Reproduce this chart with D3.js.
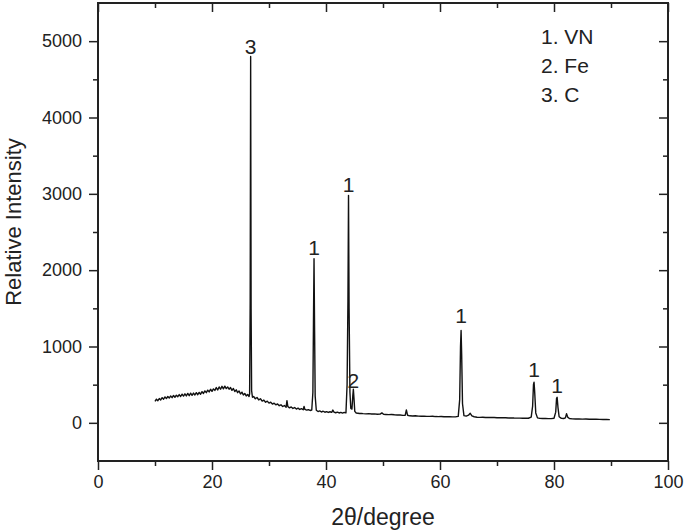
<!DOCTYPE html>
<html>
<head>
<meta charset="utf-8">
<script src="https://cdn.jsdelivr.net/npm/d3@7"></script>
<style>
  html, body { margin: 0; padding: 0; background: #fff; }
  svg { display: block; }
  text { font-family: "Liberation Sans", Arial, sans-serif; fill: #222; }
</style>
</head>
<body>
<svg id="chart" width="685" height="532"></svg>
<script>
// ---- data ----
const twoTheta = [
  10, 10.25, 10.5, 10.75, 11, 11.25, 11.5, 11.75, 12, 12.25, 12.5, 12.75, 13, 13.25, 13.5, 13.75,
  14, 14.25, 14.5, 14.75, 15, 15.25, 15.5, 15.75, 16, 16.25, 16.5, 16.75, 17, 17.25, 17.5, 17.75,
  18, 18.25, 18.5, 18.75, 19, 19.25, 19.5, 19.75, 20, 20.25, 20.5, 20.75, 21, 21.25, 21.5, 21.75,
  22, 22.25, 22.5, 22.75, 23, 23.25, 23.5, 23.75, 24, 24.25, 24.5, 24.75, 25, 25.25, 25.5, 25.75,
  26, 26.25, 26.5,
  26.6, 26.7, 26.78, 26.86, 26.95, 27.1,
  27.3, 27.6, 27.9, 28.2, 28.5, 28.8, 29.1, 29.4, 29.7, 30, 30.3, 30.6, 30.9, 31.2, 31.5, 31.8,
  32.1, 32.4, 32.7, 33, 33.15, 33.3, 33.6, 33.9, 34.2, 34.5, 34.8, 35.1, 35.4, 35.7, 36.0, 36.15,
  36.3, 36.6, 36.9, 37.2, 37.5, 37.7, 37.8, 37.9, 38.0, 38.1, 38.3, 38.6, 38.9, 39.2, 39.5, 39.8,
  40.1, 40.4, 40.7, 41.0, 41.2, 41.4, 41.7, 42.0, 42.3, 42.6, 42.9, 43.2, 43.5, 43.7, 43.85, 43.95,
  44.05, 44.2, 44.35, 44.55, 44.7, 44.8, 44.9, 45.05, 45.3, 45.6, 45.9, 46.2, 46.5, 47, 47.5, 48,
  48.5, 49, 49.5, 49.8, 50.1, 50.5, 51, 51.5, 52, 52.5, 53, 53.5, 53.9, 54.1, 54.3, 54.7,
  55.2, 55.7, 56.2, 56.7, 57.2, 57.7, 58.2, 58.7, 59.2, 59.7, 60.2, 60.7, 61.2, 61.7, 62.2, 62.7,
  63.2, 63.45, 63.6, 63.7, 63.8, 63.95, 64.2, 64.6, 65.0, 65.3, 65.6, 66.0, 66.5, 67, 67.5, 68,
  68.5, 69, 69.5, 70, 70.5, 71, 71.5, 72, 72.5, 73, 73.5, 74, 74.5, 75, 75.5, 76.0,
  76.25, 76.4, 76.5, 76.6, 76.8, 77.1, 77.5, 78, 78.5, 79, 79.5, 80.0, 80.3, 80.45, 80.55, 80.7,
  80.9, 81.3, 81.7, 82.0, 82.2, 82.4, 82.7, 83.2, 83.8, 84.4, 85, 85.6, 86.2, 86.8, 87.4, 88,
  88.6, 89.2, 89.8
];
const intensity = [
  280, 310, 290, 318, 300, 330, 310, 340, 318, 345, 325, 352, 330, 358, 335, 362,
  342, 370, 345, 375, 350, 380, 352, 385, 355, 388, 360, 390, 365, 395, 368, 398,
  375, 408, 385, 418, 395, 428, 405, 440, 412, 445, 425, 462, 430, 470, 440, 478,
  445, 480, 448, 470, 440, 462, 425, 450, 410, 432, 395, 418, 378, 402, 365, 385,
  352, 372, 345,
  380, 1600, 4800, 1500, 420, 335,
  345, 315, 332, 300, 315, 285, 298, 270, 284, 258, 270, 246, 258, 236, 248, 224,
  236, 214, 226, 205, 290, 215, 196, 208, 188, 200, 181, 193, 175, 185, 171, 215,
  175, 166, 172, 162, 168, 400, 1300, 2150, 1200, 350, 165, 148, 156, 142, 152, 139,
  147, 136, 145, 137, 168, 141, 132, 140, 129, 137, 127, 136, 131, 500, 1600, 2980,
  1500, 400, 190, 180, 350, 440, 330, 150, 128, 125, 122, 124, 120, 118, 120, 115,
  117, 113, 115, 130, 112, 110, 108, 110, 105, 103, 102, 98, 100, 170, 100, 92,
  90, 92, 88, 86, 88, 85, 84, 86, 82, 81, 83, 80, 79, 81, 78, 78,
  85, 300, 1000, 1210, 900, 250, 95, 88, 100, 125, 92, 80, 74, 72, 73, 70,
  71, 69, 70, 67, 68, 66, 66, 64, 65, 63, 62, 62, 61, 60, 60, 75,
  220, 500, 532, 420, 130, 65, 58, 56, 57, 55, 55, 60, 140, 320, 335, 200,
  80, 58, 57, 65, 120, 75, 57, 52, 51, 50, 49, 50, 47, 46, 46, 45,
  44, 43, 42
];

// peak annotations
const peakLabels = ["3", "1", "1", "2", "1", "1", "1"];
const peakLabelX = [26.78, 37.9, 43.95, 44.8, 63.7, 76.5, 80.55];
const peakLabelY = [4830, 2200, 3030, 460, 1310, 600, 390];

// legend
const legendItems = ["1. VN", "2. Fe", "3. C"];

// axes
const xDomain = [0, 100];
const yDomain = [-500, 5500];
const xMajorTicks = [0, 20, 40, 60, 80, 100];
const xMinorTicks = [10, 30, 50, 70, 90];
const yMajorTicks = [0, 1000, 2000, 3000, 4000, 5000];
const yMinorTicks = [500, 1500, 2500, 3500, 4500];
const xTitle = "2\u03B8/degree";
const yTitle = "Relative Intensity";

// ---- drawing ----
const svg = d3.select("#chart");
const pL = 98, pR = 668, pT = 3, pB = 461;

const x = d3.scaleLinear().domain(xDomain).range([pL, pR]);
const y = d3.scaleLinear().domain(yDomain).range([pB, pT]);

const axisColor = "#222";
const fmt = d3.format("d");

function styleAxis(g) {
  g.selectAll(".domain").remove();
  g.selectAll(".tick line").attr("stroke", axisColor).attr("stroke-width", 1.5);
  g.selectAll(".tick text").attr("font-size", 18).attr("fill", "#222")
    .attr("font-family", "'Liberation Sans', Arial, sans-serif");
}

// bottom axis
svg.append("g").attr("transform", `translate(0,${pB})`)
  .call(d3.axisBottom(x).tickValues(xMajorTicks).tickSize(9).tickPadding(5).tickFormat(fmt))
  .call(styleAxis);
svg.append("g").attr("transform", `translate(0,${pB})`)
  .call(d3.axisBottom(x).tickValues(xMinorTicks).tickSize(5).tickFormat(""))
  .call(styleAxis);
// top axis (inward)
svg.append("g").attr("transform", `translate(0,${pT})`)
  .call(d3.axisBottom(x).tickValues(xMajorTicks).tickSize(9).tickFormat(""))
  .call(styleAxis);
svg.append("g").attr("transform", `translate(0,${pT})`)
  .call(d3.axisBottom(x).tickValues(xMinorTicks).tickSize(5).tickFormat(""))
  .call(styleAxis);
// left axis
svg.append("g").attr("transform", `translate(${pL},0)`)
  .call(d3.axisLeft(y).tickValues(yMajorTicks).tickSize(9).tickPadding(7).tickFormat(fmt))
  .call(styleAxis);
svg.append("g").attr("transform", `translate(${pL},0)`)
  .call(d3.axisLeft(y).tickValues(yMinorTicks).tickSize(5).tickFormat(""))
  .call(styleAxis);
// right axis (inward)
svg.append("g").attr("transform", `translate(${pR},0)`)
  .call(d3.axisLeft(y).tickValues(yMajorTicks).tickSize(9).tickFormat(""))
  .call(styleAxis);
svg.append("g").attr("transform", `translate(${pR},0)`)
  .call(d3.axisLeft(y).tickValues(yMinorTicks).tickSize(5).tickFormat(""))
  .call(styleAxis);

// frame
svg.append("rect")
  .attr("x", pL).attr("y", pT)
  .attr("width", pR - pL).attr("height", pB - pT)
  .attr("fill", "none").attr("stroke", axisColor).attr("stroke-width", 2);

// spectrum line
const pts = twoTheta.map((t, i) => [t, intensity[i]]);
const line = d3.line().x(d => x(d[0])).y(d => y(d[1]));
svg.append("path")
  .datum(pts)
  .attr("d", line)
  .attr("fill", "none")
  .attr("stroke", "#111")
  .attr("stroke-width", 1.4)
  .attr("stroke-linejoin", "round");

// peak labels
svg.append("g").selectAll("text")
  .data(peakLabels)
  .join("text")
  .attr("x", (d, i) => x(peakLabelX[i]))
  .attr("y", (d, i) => y(peakLabelY[i]))
  .attr("text-anchor", "middle")
  .attr("font-size", 21)
  .text(d => d);

// legend
svg.append("g").selectAll("text")
  .data(legendItems)
  .join("text")
  .attr("x", 541)
  .attr("y", (d, i) => 44 + i * 29)
  .attr("font-size", 21)
  .text(d => d);

// axis titles
svg.append("text")
  .attr("x", (pL + pR) / 2)
  .attr("y", 525)
  .attr("text-anchor", "middle")
  .attr("font-size", 23)
  .text(xTitle);

svg.append("text")
  .attr("transform", `translate(21,${(pT + pB) / 2 - 10}) rotate(-90)`)
  .attr("text-anchor", "middle")
  .attr("font-size", 22)
  .text(yTitle);
</script>
</body>
</html>
